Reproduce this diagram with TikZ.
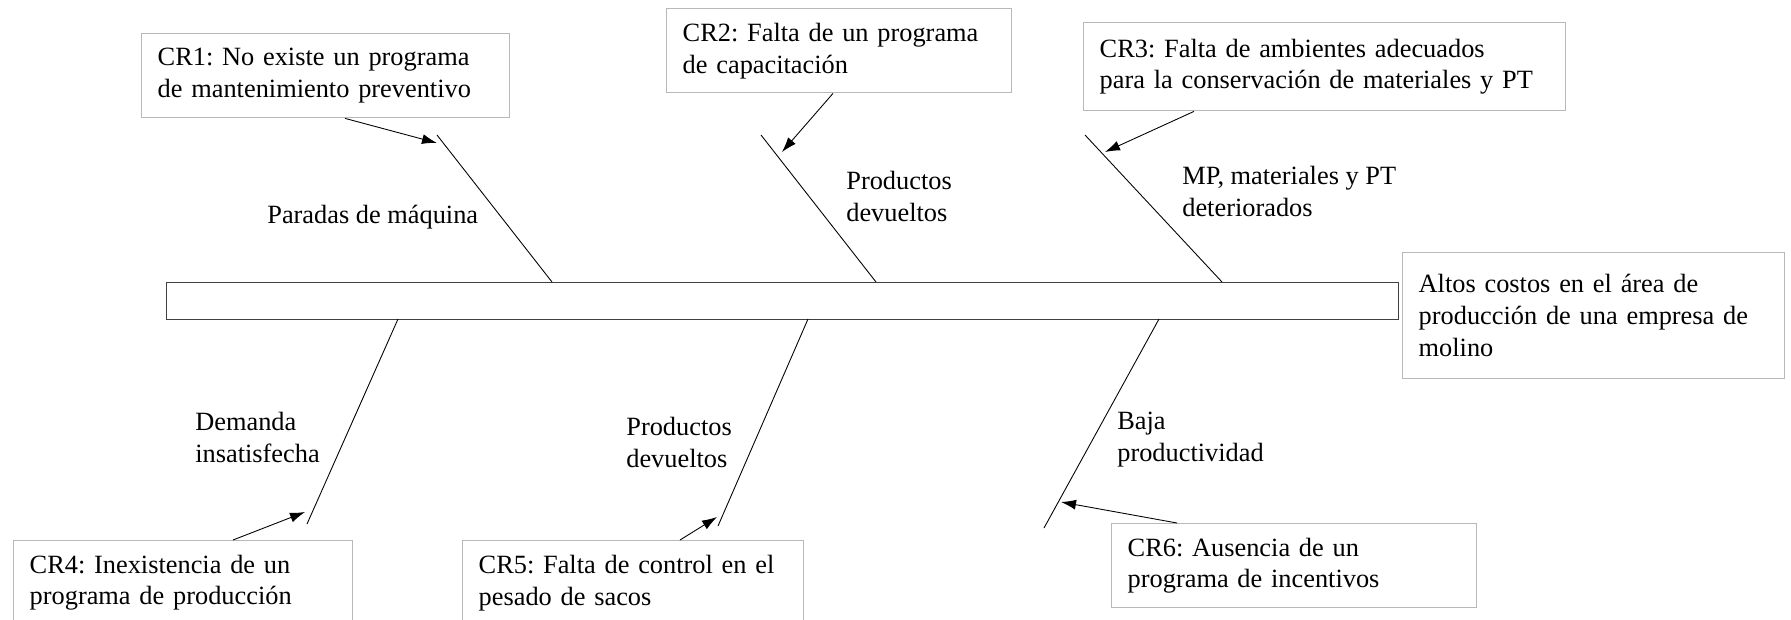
\documentclass[tikz,border=0pt]{standalone}
\usepackage{fontspec}
\setmainfont{Liberation Serif}
\usetikzlibrary{arrows.meta}
\frenchspacing

\begin{document}
\begin{tikzpicture}[x=0.02cm,y=-0.02cm,
  font=\fontsize{15}{18.2}\selectfont,
  causebox/.style={draw=black!28,line width=0.8pt,anchor=north west,align=left,
    inner xsep=0.32cm,inner ysep=0pt,minimum height=1.68cm},
  spinebox/.style={draw=black!75,line width=0.8pt,anchor=north west,inner sep=0pt},
  bone/.style={line width=0.5pt},
  crarrow/.style={line width=0.5pt,-{Latex[length=0.3cm,width=0.2cm]}},
  bonelabel/.style={anchor=west,align=left,inner sep=0pt}]
  \useasboundingbox (0,0) rectangle (1791,619);

  % spine and effect
  \node[spinebox,minimum width=24.64cm,minimum height=0.74cm] (spine) at (166,282) {};
  \node[causebox,text width=7cm,minimum height=2.52cm] (effect) at (1402,252)
    {Altos costos en el área de\\producción de una empresa de\\molino};

  % root causes
  \node[causebox,text width=6.72cm] (cr1) at (141,33) {CR1: No existe un programa\\de mantenimiento preventivo};
  \node[causebox,text width=6.26cm] (cr2) at (666,8) {CR2: Falta de un programa\\de capacitación};
  \node[causebox,text width=9cm,minimum height=1.76cm] (cr3) at (1083,22) {CR3: Falta de ambientes adecuados\\para la conservación de materiales y PT};
  \node[causebox,text width=6.14cm] (cr4) at (13,540) {CR4: Inexistencia de un\\programa de producción};
  \node[causebox,text width=6.18cm] (cr5) at (462,540) {CR5: Falta de control en el\\pesado de sacos};
  \node[causebox,text width=6.66cm] (cr6) at (1111,523) {CR6: Ausencia de un\\programa de incentivos};

  % bones, upper side
  \coordinate (b1t) at (437,135); \coordinate (b1s) at (552,282);
  \coordinate (b2t) at (761,135); \coordinate (b2s) at (876,282);
  \coordinate (b3t) at (1085,135); \coordinate (b3s) at (1222,282);
  % bones, lower side
  \coordinate (b4s) at (398,319); \coordinate (b4t) at (307,524);
  \coordinate (b5s) at (808,319); \coordinate (b5t) at (718,526);
  \coordinate (b6s) at (1159,319); \coordinate (b6t) at (1044,528);
  \foreach \i in {1,...,6}
    \draw[bone] (b\i t) -- (b\i s);

  % arrow heads on the bones
  \coordinate (a1) at (437,143);
  \coordinate (a2) at (782,152);
  \coordinate (a3) at (1105,152);
  \coordinate (a4) at (305,512);
  \coordinate (a5) at (717,517);
  \coordinate (a6) at (1061,502);
  \draw[crarrow] (cr1.south -| 345,0) -- (a1);
  \draw[crarrow] (cr2.south -| 833,0) -- (a2);
  \draw[crarrow] (cr3.south -| 1194,0) -- (a3);
  \draw[crarrow] (cr4.north -| 233,0) -- (a4);
  \draw[crarrow] (cr5.north -| 680,0) -- (a5);
  \draw[crarrow] (cr6.north -| 1177,0) -- (a6);

  % effects of each cause
  \node[bonelabel] (lbl1) at (267,217) {Paradas de máquina};
  \node[bonelabel] (lbl2) at (846,196) {Productos\\devueltos};
  \node[bonelabel] (lbl3) at (1182,191) {MP, materiales y PT\\deteriorados};
  \node[bonelabel] (lbl4) at (195,437) {Demanda\\insatisfecha};
  \node[bonelabel] (lbl5) at (626,442) {Productos\\devueltos};
  \node[bonelabel] (lbl6) at (1117,440) {Baja\\productividad};
\end{tikzpicture}
\end{document}
